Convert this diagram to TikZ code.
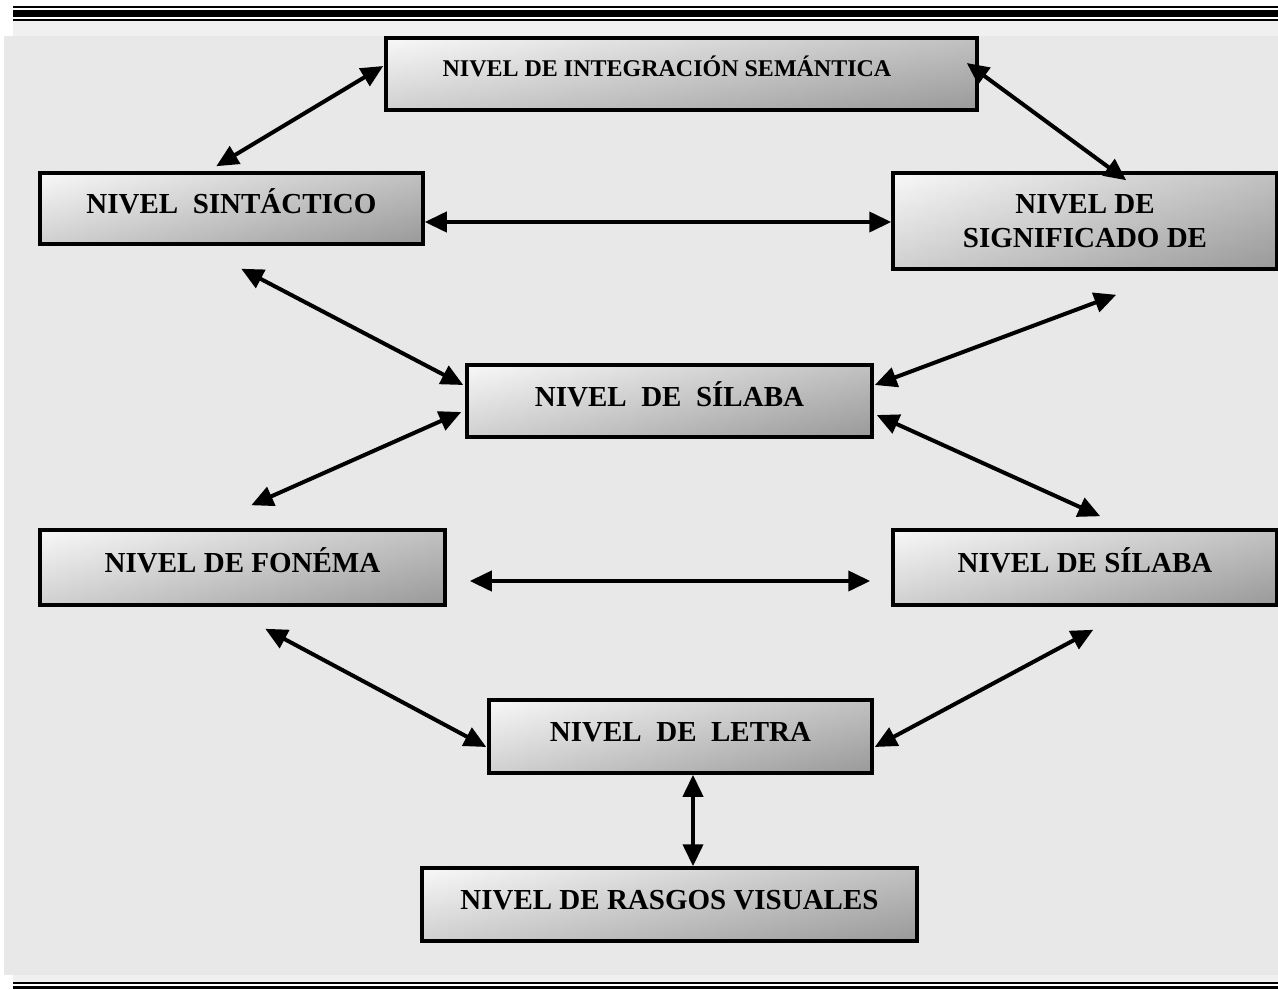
\documentclass[tikz,border=0pt]{standalone}
\usepackage{fontspec}
\setmainfont{Liberation Serif}
\usetikzlibrary{arrows.meta,calc}
\definecolor{bgtex}{HTML}{E8E8E8}
\definecolor{bgstrip}{HTML}{F0F0F0}
\begin{document}
\begin{tikzpicture}[x=1pt,y=-1pt,
  lvl/.style={draw=black, line width=3.5pt, inner sep=0pt,
    left color=white!96!black, right color=black!37,
    font=\bfseries\fontsize{29}{34}\selectfont, align=center,
    path picture={\shade[top color=white, bottom color=black!45, opacity=0.35]
      (path picture bounding box.south west) rectangle (path picture bounding box.north east);}},
  onel/.style={text height=20pt, text depth=10pt},
  semtxt/.style={font=\bfseries\fontsize{24}{28}\selectfont, inner sep=0pt},
  arr/.style={line width=4pt, {Triangle[length=22pt,width=20pt]}-{Triangle[length=22pt,width=20pt]}}
]
\useasboundingbox (0,0) rectangle (1278,989);
\fill[white] (0,0) rectangle (1278,989);
% background
\fill[bgstrip] (13,21) rectangle (1278,36);
\fill[bgtex] (4,36) rectangle (1278,975);
\fill[bgstrip] (13,975) rectangle (1278,982);
% header and footer rules
\fill[black] (13,6) rectangle (1278,8);
\fill[black] (13,9.5) rectangle (1278,16.5);
\fill[black] (13,19) rectangle (1278,21);
\fill[black] (13,982) rectangle (1278,984);
\fill[black] (13,986) rectangle (1278,989);
% boxes
\node[lvl, minimum width=591pt, minimum height=72pt] (sem) at (681.5,74) {};
\node[semtxt] (semt) at (667,66) {NIVEL DE INTEGRACIÓN SEMÁNTICA};
\node[lvl, onel, minimum width=383pt, minimum height=71pt] (syn) at (231.5,208.5) {NIVEL\ \ SINTÁCTICO};
\node[lvl, minimum width=384pt, minimum height=96pt] (sig) at (1085,221) {NIVEL DE\\SIGNIFICADO DE};
\node[lvl, onel, minimum width=405pt, minimum height=72pt] (sil) at (669.5,401) {NIVEL\ \ DE\ \ SÍLABA};
\node[lvl, onel, minimum width=405pt, minimum height=75pt] (fon) at (242.5,567.5) {NIVEL DE FONÉMA};
\node[lvl, onel, minimum width=384pt, minimum height=75pt] (sil2) at (1085,567.5) {NIVEL DE SÍLABA};
\node[lvl, onel, minimum width=383pt, minimum height=73pt] (let) at (680.5,736.5) {NIVEL\ \ DE\ \ LETRA};
\node[lvl, onel, minimum width=495pt, minimum height=73pt] (ras) at (669.5,904.5) {NIVEL DE RASGOS VISUALES};
% connectors
\draw[arr] ($(syn.north west)+(178,-5)$) -- ($(sem.west)+(-1,-8)$);
\draw[arr] ($(sem.east)+(-12,-11)$) -- ($(sig.north west)+(235,9)$);
\draw[arr] ($(syn.east)+(0,13.5)$) -- ($(sig.west)+(0,1)$);
\draw[arr] ($(syn.south west)+(203,23)$) -- ($(sil.west)+(-2,-16)$);
\draw[arr] ($(sig.south west)+(225,24)$) -- ($(sil.east)+(1,-16)$);
\draw[arr] ($(fon.north west)+(213,-23)$) -- ($(sil.west)+(-4,11)$);
\draw[arr] ($(sil.east)+(3,14)$) -- ($(sil2.north west)+(209,-12)$);
\draw[arr] ($(fon.east)+(23,13.5)$) -- ($(sil2.west)+(-21,13.5)$);
\draw[arr] ($(fon.south west)+(227,22)$) -- ($(let.west)+(-1,10.5)$);
\draw[arr] ($(sil2.south west)+(202,23)$) -- ($(let.east)+(1,10.5)$);
\draw[arr] ($(let.south)+(12.5,0)$) -- ($(ras.north)+(23.5,0)$);
\end{tikzpicture}
\end{document}
